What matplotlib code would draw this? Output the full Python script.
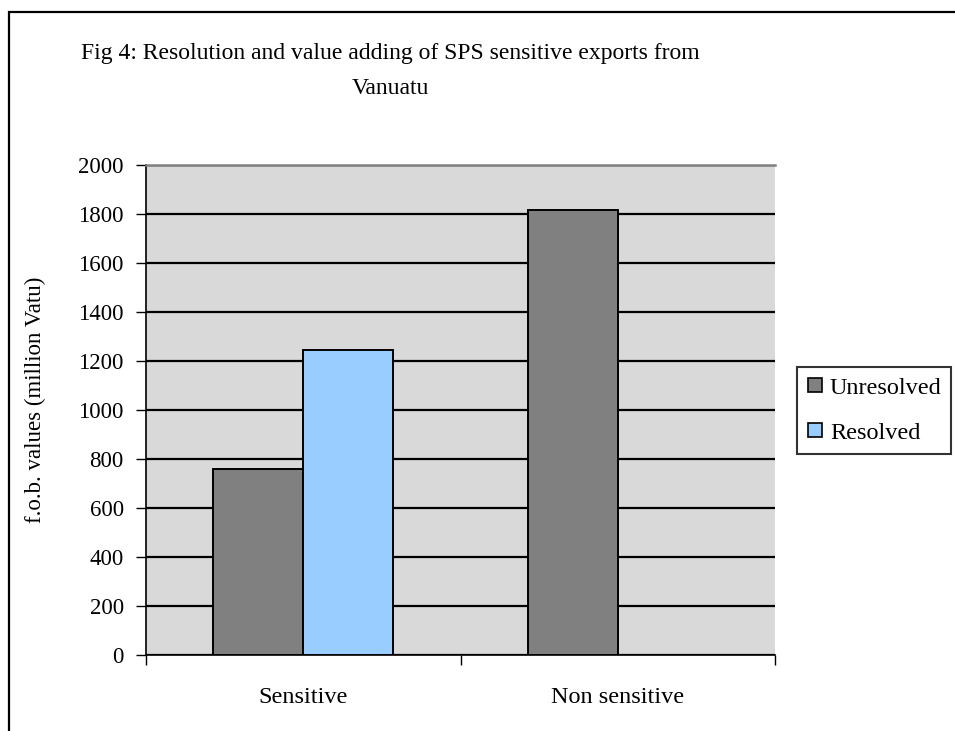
import matplotlib
matplotlib.use("Agg")
import matplotlib.pyplot as plt
from matplotlib.patches import Rectangle
from matplotlib.lines import Line2D

categories = ["Sensitive", "Non sensitive"]
unresolved = [758, 1815]
resolved = [1245, None]
series_names = ["Unresolved", "Resolved"]
y_ticks = [0, 200, 400, 600, 800, 1000, 1200, 1400, 1600, 1800, 2000]

plt.rcParams["font.family"] = ["Liberation Serif", "DejaVu Serif"]

W, H = 955, 731
fig = plt.figure(figsize=(W / 100, H / 100), dpi=100)

# outer chart frame (runs off the right and bottom edges)
fig.patches.append(Rectangle((9 / W, -0.05), 1.2, (731 - 12) / H + 0.05,
                             transform=fig.transFigure, fill=False,
                             edgecolor="black", linewidth=1.6))

ax = fig.add_axes([146 / W, (H - 655) / H, (775 - 146) / W, (655 - 165) / H])
ax.set_facecolor("#D9D9D9")

bw = 0.286
xs = range(len(categories))
for i in xs:
    ax.bar(i - bw / 2, unresolved[i], width=bw, color="#808080",
           edgecolor="black", linewidth=1.4, zorder=3)
    if resolved[i] is not None:
        ax.bar(i + bw / 2, resolved[i], width=bw, color="#99CCFF",
               edgecolor="black", linewidth=1.4, zorder=3)

ax.set_xlim(-0.5, len(categories) - 0.5)
ax.set_ylim(0, 2000)
ax.set_yticks(y_ticks)
ax.set_yticklabels([str(v) for v in y_ticks], fontsize=16.5)
ax.yaxis.grid(True, color="black", linewidth=1.6, zorder=1)
ax.set_axisbelow(True)

# category boundary ticks with centered labels
ax.set_xticks([-0.5, 0.5, 1.5])
ax.set_xticklabels([])
ax.set_xticks(list(xs), minor=True)
ax.set_xticklabels(categories, minor=True, fontsize=17.5)
ax.tick_params(axis="x", which="minor", length=0, pad=23)
ax.tick_params(axis="x", which="major", length=7, width=1, direction="out")
ax.tick_params(axis="y", length=7, width=1, direction="out", pad=9)

for s in ["left", "bottom"]:
    ax.spines[s].set_color("black")
    ax.spines[s].set_linewidth(1.2)
ax.spines["top"].set_color("#808080")
ax.spines["top"].set_linewidth(1.8)
ax.spines["right"].set_visible(False)

ax.set_ylabel("f.o.b. values (million Vatu)", fontsize=16.5)
ax.yaxis.set_label_coords(-(146 - 46) / (775 - 146), (655 - 400) / (655 - 165))

fig.text(390 / W, 1 - 53 / H, "Fig 4: Resolution and value adding of SPS sensitive exports from",
         ha="center", va="center", fontsize=17)
fig.text(390 / W, 1 - 89 / H, "Vanuatu", ha="center", va="center", fontsize=17)

handles = [
    Line2D([], [], marker="s", linestyle="none", markersize=10,
           markerfacecolor="#808080", markeredgecolor="black", markeredgewidth=1.2),
    Line2D([], [], marker="s", linestyle="none", markersize=10,
           markerfacecolor="#99CCFF", markeredgecolor="black", markeredgewidth=1.2),
]
leg = fig.legend(handles, series_names, loc="upper left",
                 bbox_to_anchor=(797 / W, 1 - 367 / H), fontsize=17.5,
                 frameon=True, fancybox=False, handlelength=0.7,
                 handletextpad=0.25, borderpad=0.4, labelspacing=0.95,
                 borderaxespad=0)
leg.get_frame().set_edgecolor("black")
leg.get_frame().set_linewidth(1.5)

fig.savefig("out.png", dpi=100)
